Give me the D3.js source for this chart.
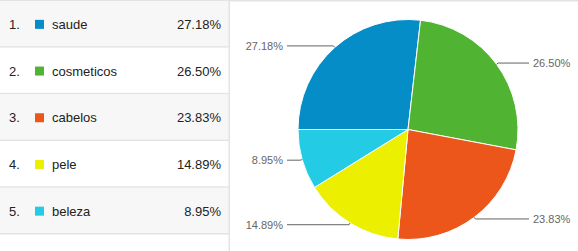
<!DOCTYPE html>
<meta charset="utf-8">
<html lang="pt">
<head>
<title>Pie</title>
<style>
  body { margin: 0; background: #fff; }
  svg { display: block; font-family: Arial, "Liberation Sans", sans-serif; }
</style>
</head>
<body>
<div id="chart"></div>
<script src="https://d3js.org/d3.v7.min.js"></script>
<script>
// data
const categories = ["saude", "cosmeticos", "cabelos", "pele", "beleza"];
const values = [27.18, 26.50, 23.83, 14.89, 8.95];
const colors = ["#058DC7", "#50B432", "#ED561B", "#EDEF00", "#24CBE5"];

const W = 578, H = 251;
const tableW = 230, rowH = 46.7;

const svg = d3.select("#chart").append("svg")
    .attr("width", W).attr("height", H);

// top border line
svg.append("rect").attr("x", 0).attr("y", 0).attr("width", W).attr("height", 1.5).attr("fill", "#e3e3e3");

// ---- table on the left
const rowY = d3.scaleBand().domain(d3.range(categories.length + 1)).range([1, 1 + rowH * (categories.length + 1)]);

const rows = svg.append("g").selectAll("g")
    .data(categories.map((c, i) => ({ name: c, value: values[i], color: colors[i], i: i })))
    .enter().append("g")
    .attr("transform", d => "translate(0," + rowY(d.i) + ")");

rows.append("rect")
    .attr("width", tableW).attr("height", rowY.bandwidth())
    .attr("fill", d => d.i % 2 == 0 ? "#f7f7f7" : "#fff");
rows.append("rect")
    .attr("y", rowY.bandwidth() - 1.5).attr("width", tableW).attr("height", 1.5)
    .attr("fill", "#e3e3e3");
rows.append("text")
    .attr("x", 9).attr("y", rowY.bandwidth() / 2).attr("dy", "0.35em")
    .attr("font-size", 13).attr("fill", "#222")
    .text(d => (d.i + 1) + ".");
rows.append("rect")
    .attr("x", 35).attr("y", rowY.bandwidth() / 2 - 4.5)
    .attr("width", 9).attr("height", 9)
    .attr("fill", d => d.color);
rows.append("text")
    .attr("x", 52).attr("y", rowY.bandwidth() / 2).attr("dy", "0.35em")
    .attr("font-size", 13).attr("fill", "#222")
    .text(d => d.name);
rows.append("text")
    .attr("x", 221).attr("y", rowY.bandwidth() / 2).attr("dy", "0.35em")
    .attr("text-anchor", "end")
    .attr("font-size", 13).attr("fill", "#222")
    .text(d => d.value.toFixed(2) + "%");

// right border of the table
svg.append("rect").attr("x", tableW - 1.5).attr("y", 0).attr("width", 1.5).attr("height", H).attr("fill", "#e3e3e3");

// ---- pie
const cx = 408, cy = 129.5, r = 110;

const pie = d3.pie().sort(null)
    .startAngle(-Math.PI / 2).endAngle(1.5 * Math.PI)
    .value(d => d);
const arcs = pie(values);
const arc = d3.arc().innerRadius(0).outerRadius(r);

const g = svg.append("g").attr("transform", "translate(" + cx + "," + cy + ")");

g.selectAll("path.slice")
    .data(arcs)
    .enter().append("path")
    .attr("class", "slice")
    .attr("d", arc)
    .attr("fill", (d, i) => colors[i])
    .attr("stroke", "#fff")
    .attr("stroke-width", 1);

function pt(a, rad) { return [rad * Math.sin(a), -rad * Math.cos(a)]; }

arcs.forEach(function (d, i) {
    const mid = (d.startAngle + d.endAngle) / 2;
    const p0 = pt(mid, r), p1 = pt(mid, r + 2);
    const right = Math.sin(mid) > 0;
    const xEnd = right ? r + 11 : -(r + 11);
    g.append("polyline")
        .attr("points", [p0, p1, [xEnd, p1[1]]].map(p => p.join(",")).join(" "))
        .attr("fill", "none").attr("stroke", "#636363").attr("stroke-width", 1);
    g.append("text")
        .attr("x", right ? r + 15 : -(r + 15))
        .attr("y", p1[1]).attr("dy", "0.35em")
        .attr("text-anchor", right ? "start" : "end")
        .attr("font-size", 11).attr("fill", "#666")
        .text(values[i].toFixed(2) + "%");
});
</script>
</body>
</html>
